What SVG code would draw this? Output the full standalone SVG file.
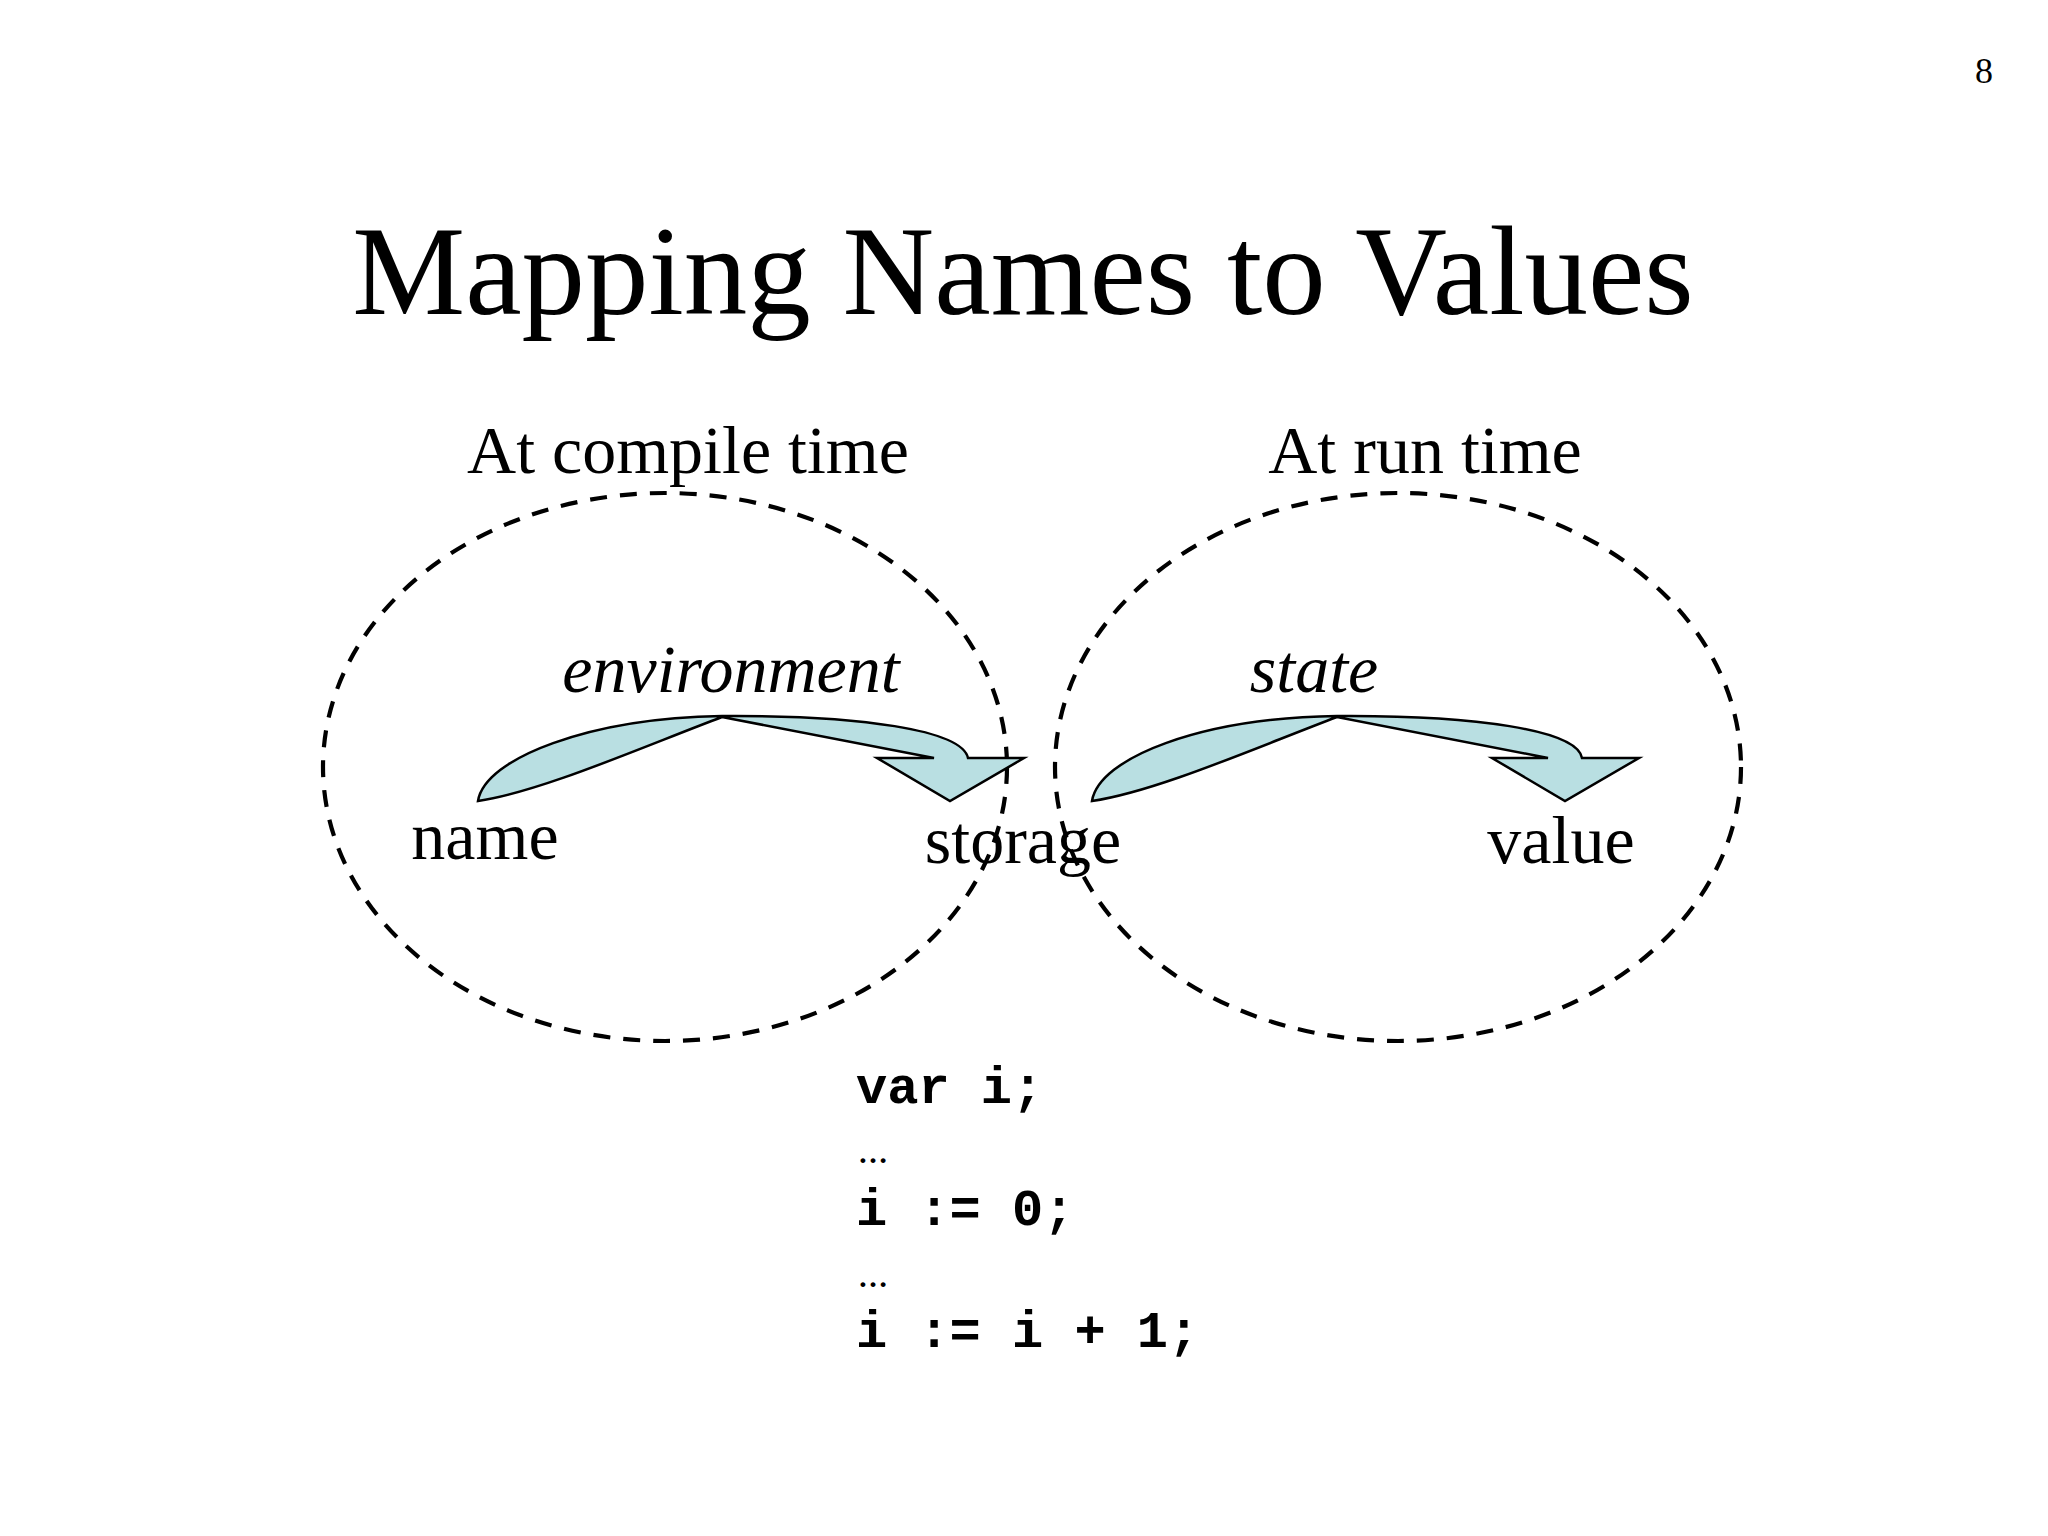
<svg xmlns="http://www.w3.org/2000/svg" width="2048" height="1536" viewBox="0 0 2048 1536">
<style>
.serif{font-family:"Liberation Serif","Times New Roman",serif;fill:#000}
.mono{font-family:"Liberation Mono","Courier New",monospace;font-weight:bold;font-size:52px;fill:#000}
.dots{font-family:"Liberation Serif","Times New Roman",serif;font-weight:bold;font-size:30px;fill:#000}
.zone{fill:none;stroke:#000;stroke-width:4.2;stroke-dasharray:17 13}
.arrow{fill:#b9dfe2;stroke:#000;stroke-width:2.5;stroke-linejoin:miter}
</style>
<rect width="2048" height="1536" fill="#fff"/>
<text class="serif" x="1984" y="83" font-size="36" text-anchor="middle">8</text>
<text class="serif" x="1023" y="314" font-size="127" text-anchor="middle">Mapping Names to Values</text>
<g id="compile-zone">
<ellipse class="zone" cx="665" cy="767" rx="342" ry="274"/>
<text class="serif" x="688" y="473" font-size="68" text-anchor="middle">At compile time</text>
</g>
<g id="run-zone">
<ellipse class="zone" cx="1398" cy="767" rx="343" ry="274"/>
<text class="serif" x="1425" y="473" font-size="68" text-anchor="middle">At run time</text>
</g>
<g id="connectors">
<g id="environment">
<path class="arrow" d="M478,801 C485,758 590,718 722,716 C860,715 962,730 968,758 L1024,758 L950,801 L877,758 L934,758 L722,717 C640,748 540,792 478,801 Z"/>
<text class="serif" x="731" y="692" font-size="68" font-style="italic" text-anchor="middle">environment</text>
</g>
<g id="state">
<path class="arrow" d="M1092,801 C1099,758 1200,718 1337,716 C1475,715 1577,730 1582,758 L1639,758 L1565,801 L1492,758 L1548,758 L1337,717 C1255,748 1155,792 1092,801 Z"/>
<text class="serif" x="1314" y="692" font-size="68" font-style="italic" text-anchor="middle">state</text>
</g>
</g>
<g id="name"><text class="serif" x="485" y="859" font-size="68" text-anchor="middle">name</text></g>
<g id="storage"><text class="serif" x="1023" y="863" font-size="68" text-anchor="middle">storage</text></g>
<g id="value"><text class="serif" x="1561" y="863" font-size="68" text-anchor="middle">value</text></g>
<g id="code">
<text class="mono" x="856" y="1103">var i;</text>
<text class="dots" x="858" y="1163">…</text>
<text class="mono" x="856" y="1225">i := 0;</text>
<text class="dots" x="858" y="1287">…</text>
<text class="mono" x="856" y="1347">i := i + 1;</text>
</g>
</svg>
